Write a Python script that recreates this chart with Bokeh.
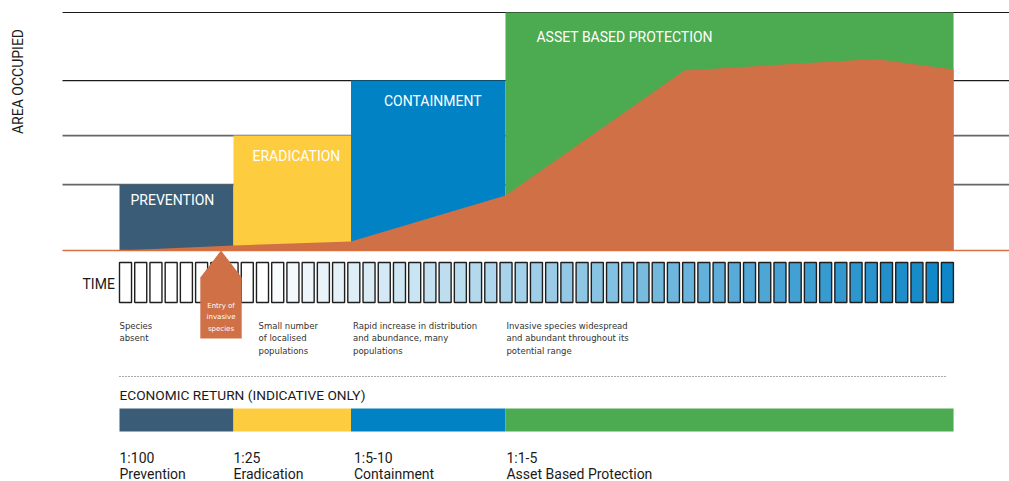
import numpy as np
from bokeh.plotting import figure
from bokeh.models import Range1d, ColumnDataSource
from bokeh.core.properties import value
from bokeh.embed import file_html
from bokeh.resources import INLINE

# ---------------- data ----------------
stages = ["PREVENTION", "ERADICATION", "CONTAINMENT", "ASSET BASED PROTECTION"]
stage_start = [0.0, 7.49, 15.21, 25.36]        # time units (one unit = one time box)
stage_end = [7.49, 15.21, 25.36, 54.8]
stage_height = [27.7, 48.3, 71.4, 100.0]       # relative area occupied
stage_colors = ["#3a5c77", "#fecc3f", "#0082c4", "#4caa50"]

curve_time = [0.0, 7.49, 15.21, 25.36, 37.12, 49.67, 54.8]
curve_area = [0.0, 2.1, 3.8, 23.1, 75.6, 80.5, 76.0]

n_time_boxes = 55
entry_time = 6.67

descriptions = ["Species\nabsent",
                "Small number\nof localised\npopulations",
                "Rapid increase in distribution\nand abundance, many\npopulations",
                "Invasive species widespread\nand abundant throughout its\npotential range"]
ratios = ["1:100", "1:25", "1:5-10", "1:1-5"]
return_names = ["Prevention", "Eradication", "Containment", "Asset Based Protection"]

# ---------------- layout helpers ----------------
W, H = 1009, 481
PX_PER_T = 15.22
X_ORIGIN = 119.0
def tx(px):
    return (px - X_ORIGIN) / PX_PER_T

BASE_PX = 250.0
PX_PER_AREA = 2.38

p = figure(width=W, height=H, x_range=Range1d(tx(0), tx(W)), y_range=Range1d(H, 0),
           output_backend="svg", toolbar_location=None, min_border=0,
           x_axis_location=None, y_axis_location=None)
p.extra_y_ranges = {"area": Range1d(-(H - BASE_PX) / PX_PER_AREA, BASE_PX / PX_PER_AREA)}
p.grid.visible = False
p.outline_line_color = None
p.background_fill_color = "white"
p.border_fill_color = "white"

# horizontal level lines
grid_cols = ["#1a1a1a", "#1a1a1a", "#666666", "#666666"]
grid_w = [1.2, 1.2, 1.8, 1.8]
lv = sorted(stage_height, reverse=True)
p.segment(x0=[tx(62)] * 4, x1=[tx(W)] * 4, y0=lv, y1=lv, y_range_name="area",
          line_color=grid_cols, line_width=grid_w)

# stage blocks
src = ColumnDataSource(dict(left=stage_start, right=stage_end, top=stage_height,
                            bottom=[0] * 4, color=stage_colors))
p.quad(left="left", right="right", top="top", bottom="bottom", fill_color="color",
       line_color=None, source=src, y_range_name="area")

# invasion curve
px_ = [curve_time[0]] + curve_time + [curve_time[-1]]
py_ = [0] + curve_area + [0]
p.patch(px_, py_, fill_color="#cf7046", line_color=None, y_range_name="area")

# baseline
p.segment(x0=[tx(62)], x1=[tx(W)], y0=[0], y1=[0], y_range_name="area",
          line_color="#d9703e", line_width=1.5)

# stage labels
lbl = ColumnDataSource(dict(x=[s + xo / PX_PER_T for s, xo in zip(stage_start, [11, 19, 33, 31])],
                            y=stage_height, text=stages, yo=[15, 20, 20, 24]))
p.text(x="x", y="y", text="text", y_offset="yo", source=lbl, y_range_name="area",
       text_color="white", text_font=value("Roboto"), text_font_size="14px",
       text_baseline="middle", text_align="left")

# time boxes
steps = np.arange(n_time_boxes)
start_rgb = np.array([255, 255, 255])
end_rgb = np.array([14, 134, 199])
cols = []
for i in steps:
    f = max(0.0, (i - 9) / (n_time_boxes - 1 - 9))
    c = (start_rgb + (end_rgb - start_rgb) * f).astype(int)
    cols.append("#%02x%02x%02x" % tuple(c))
p.quad(left=steps, right=steps + 0.79, top=[262] * n_time_boxes, bottom=[302] * n_time_boxes,
       fill_color=cols, line_color="#1f1f1f", line_width=1.4)

# entry marker
hw = 20.7 / PX_PER_T
p.patch([entry_time, entry_time + hw, entry_time + hw, entry_time - hw, entry_time - hw],
        [250, 277, 338, 338, 277], fill_color="#cf7046", line_color=None)
p.text(x=[entry_time], y=[301], text=["Entry of\ninvasive\nspecies"], text_color="white",
       text_font=value("DejaVu Sans"), text_font_size="7px", text_align="center",
       text_baseline="top", text_line_height=1.45)

# TIME and AREA OCCUPIED
p.text(x=[tx(82)], y=[283], text=["TIME"], text_color="#1a1a1a", text_font=value("Roboto"),
       text_font_size="14px", text_baseline="middle", text_align="left")
p.text(x=[tx(17)], y=[81], text=["AREA OCCUPIED"], angle=np.pi / 2, text_color="#1a1a1a",
       text_font=value("Roboto"), text_font_size="14px", text_baseline="middle",
       text_align="center")

# descriptions
desc_x = [stage_start[0], stage_start[1] + 25 / PX_PER_T, stage_start[2] + 2 / PX_PER_T,
          stage_start[3] + 1 / PX_PER_T]
p.text(x=desc_x, y=[320] * 4, text=descriptions, text_color="#333333",
       text_font=value("DejaVu Sans"), text_font_size="8.5px", text_align="left",
       text_baseline="top", text_line_height=1.28)

# dotted separator
p.segment(x0=[0], x1=[tx(945)], y0=[376], y1=[376], line_color="#555555",
          line_width=1, line_dash="1 2")

p.text(x=[0], y=[394], text=["ECONOMIC RETURN (INDICATIVE ONLY)"], text_color="#1a1a1a",
       text_font=value("Roboto"), text_font_size="13.7px", text_baseline="middle",
       text_align="left")

# economic return bar
p.quad(left=stage_start, right=stage_end, top=[408] * 4, bottom=[431] * 4,
       fill_color=stage_colors, line_color=None)

rx = [s + o / PX_PER_T for s, o in zip(stage_start, [0, 0, 3, 1])]
p.text(x=rx, y=[457] * 4, text=ratios, text_color="#1a1a1a", text_font=value("Roboto"),
       text_font_size="14px", text_baseline="middle", text_align="left")
p.text(x=rx, y=[473] * 4, text=return_names, text_color="#1a1a1a", text_font=value("Roboto"),
       text_font_size="14px", text_baseline="middle", text_align="left")

open("out.html", "w").write(file_html(p, INLINE))
